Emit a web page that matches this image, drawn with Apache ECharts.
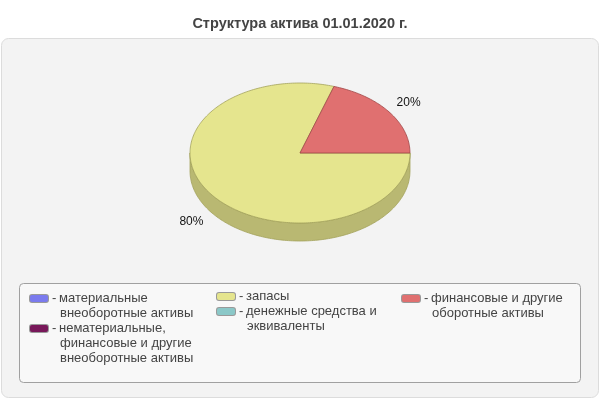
<!DOCTYPE html>
<html lang="ru">
<head>
  <meta charset="UTF-8">
  <title>Структура актива</title>
  <script src="https://cdn.jsdelivr.net/npm/echarts@6/dist/echarts.min.js"></script>
  <style>
    html, body { margin: 0; padding: 0; background: #fff; }
  </style>
</head>
<body>
<div id="chart" style="width: 600px;height: 400px;"></div>
<script>
  let myChart = echarts.init(document.getElementById('chart'))

  // данные
  const title = 'Структура актива 01.01.2020 г.'
  const categories = [
    'материальные внеоборотные активы',
    'нематериальные, финансовые и другие внеоборотные активы',
    'запасы',
    'денежные средства и эквиваленты',
    'финансовые и другие оборотные активы'
  ]
  const values = [0, 0, 80, 0, 20]
  const colors = ['#7b7bee', '#78185a', '#e5e58e', '#8bc8c8', '#e07070']
  const sideColors = ['#5a5ab0', '#561040', '#b9b872', '#689696', '#b05555']
  const edgeColors = ['#5050a0', '#4a0e38', '#a3a25c', '#5a8888', '#a04848']

  // геометрия "3D" пирога
  const cx = 300, cy = 153, rx = 110, ry = 70, depth = 18

  const total = values.reduce((a, b) => a + b, 0)
  const starts = []
  values.reduce((acc, v, i) => { starts[i] = acc; return acc + v }, 0)

  // угол по часовой стрелке от 3 часов
  function ang(v) { return -v / total * Math.PI * 2 }
  function pt(t, dy) { return [cx + rx * Math.cos(t), cy - ry * Math.sin(t) + (dy || 0)] }
  function arc(a, b, dy) {
    let pts = []
    let n = Math.max(2, Math.ceil(Math.abs(b - a) / (Math.PI / 180)))
    for (let k = 0; k <= n; k++) pts.push(pt(a + (b - a) * k / n, dy))
    return pts
  }

  // перенос подписей легенды
  function wrap(s, max) {
    let lines = [], cur = ''
    s.split(' ').forEach(w => {
      if (cur && (cur + ' ' + w).length > max) { lines.push(cur); cur = w }
      else cur = cur ? cur + ' ' + w : w
    })
    if (cur) lines.push(cur)
    return lines
  }

  let rich = {
    d: {width: 7, fontSize: 13, lineHeight: 15, color: '#444'},
    p: {width: 30, fontSize: 13, lineHeight: 15},
    t: {fontSize: 13, lineHeight: 15, color: '#444', fontFamily: 'Liberation Sans'}
  }
  colors.forEach((c, i) => {
    rich['s' + i] = {width: 18, height: 7, backgroundColor: c, borderColor: '#999', borderWidth: 1, borderRadius: 2}
    rich['g' + i] = {width: 4}
  })

  function legendText(name) {
    let i = categories.indexOf(name)
    let lines = wrap(name, 19)
    return lines.map((l, k) => k === 0
      ? '{s' + i + '| }{g' + i + '| }{d|-}{t|' + l + '}'
      : '{p| }{t|' + l + '}').join('\n')
  }

  function legendCol(data, left, top) {
    return {
      data: data, left: left, top: top, orient: 'vertical',
      padding: 0, itemGap: 0, itemWidth: 0, itemHeight: 0,
      selectedMode: false,
      formatter: legendText,
      textStyle: {fontSize: 13, lineHeight: 15, color: '#444', rich: rich}
    }
  }

  // боковые стенки
  let sideSeries = {
    type: 'custom',
    coordinateSystem: 'none',
    silent: true,
    z: 1,
    data: values.map((v, i) => [i, v]),
    renderItem: function (params, api) {
      let i = api.value(0), v = api.value(1)
      if (!v) return null
      let a = ang(starts[i]), b = ang(starts[i] + v)
      let t1 = Math.min(a, 0), t2 = Math.max(b, -Math.PI)
      if (t1 <= t2) return null
      let pts = arc(t1, t2, 0).concat(arc(t2, t1, depth))
      return {
        type: 'polygon',
        shape: {points: pts},
        style: {fill: sideColors[i], stroke: edgeColors[i], lineWidth: 0.8}
      }
    }
  }

  // верхние грани и подписи
  let topSeries = categories.map((name, i) => ({
    type: 'custom',
    name: name,
    coordinateSystem: 'none',
    z: 2,
    itemStyle: {color: colors[i]},
    data: [[i, values[i]]],
    renderItem: function (params, api) {
      let idx = api.value(0), v = api.value(1)
      if (!v) return null
      let a = ang(starts[idx]), b = ang(starts[idx] + v)
      let pts = [[cx, cy]].concat(arc(a, b, 0))
      let m = (a + b) / 2
      let lx = cx + rx * 1.22 * Math.cos(m)
      let ly = cy - ry * 1.22 * Math.sin(m) + (Math.sin(m) < 0 ? depth : 0)
      return {
        type: 'group',
        children: [
          {
            type: 'polygon',
            shape: {points: pts},
            style: {fill: colors[idx], stroke: edgeColors[idx], lineWidth: 0.8}
          },
          {
            type: 'text',
            x: lx, y: ly,
            style: {
              text: Math.round(v / total * 100) + '%',
              fill: '#111', fontSize: 12, fontFamily: 'Liberation Sans',
              align: 'center', verticalAlign: 'middle'
            }
          }
        ]
      }
    }
  }))

  option = {
    animation: false,
    color: colors,
    textStyle: {fontFamily: 'Liberation Sans'},
    title: {
      text: title,
      left: 'center', top: 11,
      textStyle: {fontSize: 14.5, fontWeight: 'bold', color: '#444', fontFamily: 'Liberation Sans'}
    },
    graphic: [
      {
        type: 'rect', z: -10, silent: true,
        shape: {x: 1.5, y: 38.5, width: 597, height: 359, r: 7},
        style: {fill: '#f3f3f3', stroke: '#dcdcdc', lineWidth: 1}
      },
      {
        type: 'rect', z: -9, silent: true,
        shape: {x: 19.5, y: 283.5, width: 561, height: 99, r: 4},
        style: {fill: '#f8f8f8', stroke: '#a0a0a0', lineWidth: 1}
      }
    ],
    legend: [
      legendCol(categories.slice(0, 2), 25, 291),
      legendCol(categories.slice(2, 4), 212, 289),
      legendCol(categories.slice(4), 397, 291)
    ],
    series: [sideSeries].concat(topSeries)
  }
  myChart.setOption(option)
</script>
</body>
</html>
